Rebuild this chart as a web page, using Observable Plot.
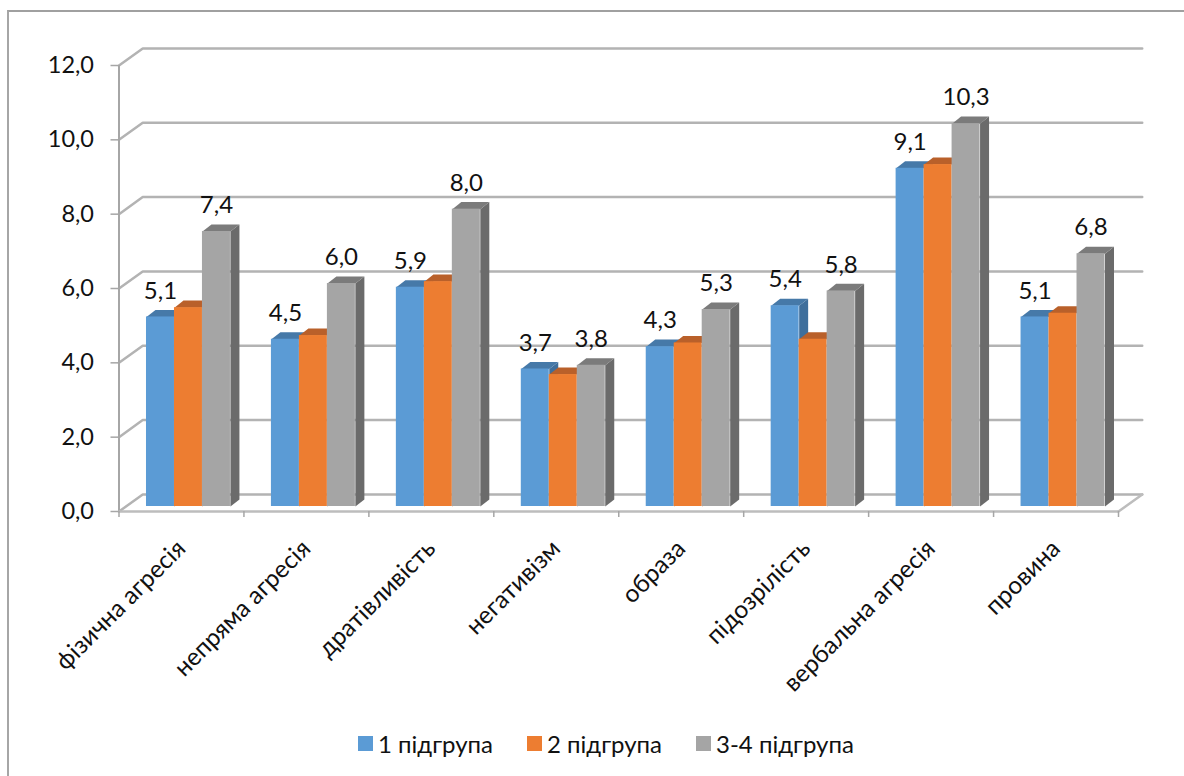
<!DOCTYPE html>
<html>
<head>
<meta charset="utf-8">
<script src="https://cdn.jsdelivr.net/npm/d3@7"></script>
<script src="https://cdn.jsdelivr.net/npm/@observablehq/plot@0.6"></script>
<style>
  html, body { margin: 0; padding: 0; background: #fff; overflow: hidden; }
  #page { position: relative; width: 1184px; height: 776px; font-family: Lato, "Noto Sans", sans-serif; }
  #page::before { content: ""; position: absolute; left: 7px; top: 10px; right: 0; bottom: 0;
    border-left: 2px solid #a6a6a6; border-top: 2px solid #a0a0a0; }
  #chart { position: absolute; left: 0; top: 0; }
  #legend { position: absolute; left: 358px; top: 725px; height: 36px; display: flex; align-items: center; font-size: 24px; color: #111; white-space: nowrap; }
  .key { display: flex; align-items: center; margin-right: 34px; }
  .swatch { width: 15px; height: 15px; margin-right: 5px; }
</style>
</head>
<body>
<div id="page">
  <div id="chart"></div>
  <div id="legend"></div>
</div>
<script>
const categories = ["фізична агресія", "непряма агресія", "дратівливість", "негативізм", "образа", "підозрілість", "вербальна агресія", "провина"];
const seriesNames = ["1 підгрупа", "2 підгрупа", "3-4 підгрупа"];
const group1 = [5.1, 4.5, 5.9, 3.7, 4.3, 5.4, 9.1, 5.1];
const group2 = [5.35, 4.6, 6.05, 3.55, 4.4, 4.5, 9.2, 5.2];
const group3 = [7.4, 6.0, 8.0, 3.8, 5.3, 5.8, 10.3, 6.8];
const yTicks = [0, 2, 4, 6, 8, 10, 12];
const frontColors = ["#5b9bd5", "#ed7d31", "#a5a5a5"];
const topColors = ["#4679a8", "#b9602a", "#7b7b7b"];
const sideColors = ["#3f6f9c", "#ae5a24", "#6b6b6b"];
const labelledSeries = [0, 2];

const allValues = [group1, group2, group3];
const fmt = v => v.toFixed(1).replace(".", ",");

// projection depth of the chart box and of each bar, in data units
const wallDx = 0.19, wallDy = 0.46;
const barDx = 0.072, barDy = 0.19;
const barStart = 0.22, barW = 0.224;
const baseLift = -5;

const bars = allValues.flatMap((vals, s) => vals.map((v, c) => ({
  s, c, v, name: seriesNames[s],
  x1: c + barStart + s * barW,
  x2: c + barStart + (s + 1) * barW
})));

const poly = (bar, face) => {
  const {x1, x2, v} = bar;
  const pts = face === "side"
    ? [[x2, 0], [x2 + barDx, barDy], [x2 + barDx, v + barDy], [x2, v]]
    : [[x1, v], [x1 + barDx, v + barDy], [x2 + barDx, v + barDy], [x2, v]];
  return pts.map(([x, y]) => ({x, y, key: `${face}-${bar.s}-${bar.c}`, s: bar.s}));
};

const wallLines = yTicks.flatMap(t => [
  {x: 0, y: t, t}, {x: wallDx, y: t + wallDy, t}, {x: 8 + wallDx, y: t + wallDy, t}
]);
const floorEdge = [{x: 8, y: 0}, {x: 8 + wallDx, y: wallDy}];

const barMarks = [0, 1, 2].flatMap(s => {
  const these = bars.filter(b => b.s === s);
  return [
    Plot.line(these.flatMap(b => poly(b, "side")), {x: "x", y: "y", z: "key", curve: "linear-closed", fill: sideColors[s], stroke: null, dy: baseLift}),
    Plot.line(these.flatMap(b => poly(b, "top")), {x: "x", y: "y", z: "key", curve: "linear-closed", fill: topColors[s], stroke: null, dy: baseLift}),
    Plot.rect(these, {x1: "x1", x2: "x2", y1: 0, y2: "v", fill: frontColors[s], dy: baseLift})
  ];
});

const labelled = bars.filter(b => labelledSeries.includes(b.s));

const plot = Plot.plot({
  width: 1184,
  height: 725,
  marginLeft: 118.5,
  marginRight: 66,
  marginTop: 65,
  marginBottom: 214,
  style: {fontFamily: 'Lato, "Noto Sans", sans-serif', background: "transparent", overflow: "visible"},
  x: {domain: [0, 8], axis: null},
  y: {domain: [0, 12], axis: null},
  marks: [
    Plot.line(wallLines, {x: "x", y: "y", z: "t", stroke: "#b3b3b3", strokeWidth: 2.5}),
    Plot.line(floorEdge, {x: "x", y: "y", stroke: "#bdbdbd", strokeWidth: 2.5}),
    Plot.ruleX([0], {y1: 0, y2: 12, stroke: "#a6a6a6", strokeWidth: 2}),
    Plot.ruleY([0], {x1: 0, x2: 8, stroke: "#bdbdbd", strokeWidth: 2.5}),
    ...barMarks,
    Plot.axisY(yTicks, {
      anchor: "left", tickSize: 8, tickPadding: 17, tickFormat: fmt,
      stroke: "#a6a6a6", fill: "#111", fontSize: 23.5, strokeWidth: 1.5
    }),
    Plot.axisX(d3.range(9), {
      anchor: "bottom", tickSize: 6, tickFormat: () => "", stroke: "#a6a6a6", strokeWidth: 1.5
    }),
    Plot.text(labelled, {
      x: d => (d.x1 + d.x2) / 2, y: "v", text: d => fmt(d.v),
      dy: -31, fontSize: 24, fill: "#111"
    }),
    Plot.text(categories, {
      x: (d, i) => i + 0.5, y: () => 0, text: d => d,
      rotate: -45, textAnchor: "end", lineAnchor: "middle",
      dx: 0, dy: 33, fontSize: 24.5, fill: "#111"
    })
  ]
});
document.getElementById("chart").appendChild(plot);

const legend = document.getElementById("legend");
seriesNames.forEach((name, i) => {
  const key = document.createElement("div");
  key.className = "key";
  const sw = document.createElement("span");
  sw.className = "swatch";
  sw.style.background = frontColors[i];
  const label = document.createElement("span");
  label.textContent = name;
  key.append(sw, label);
  legend.append(key);
});
</script>
</body>
</html>
